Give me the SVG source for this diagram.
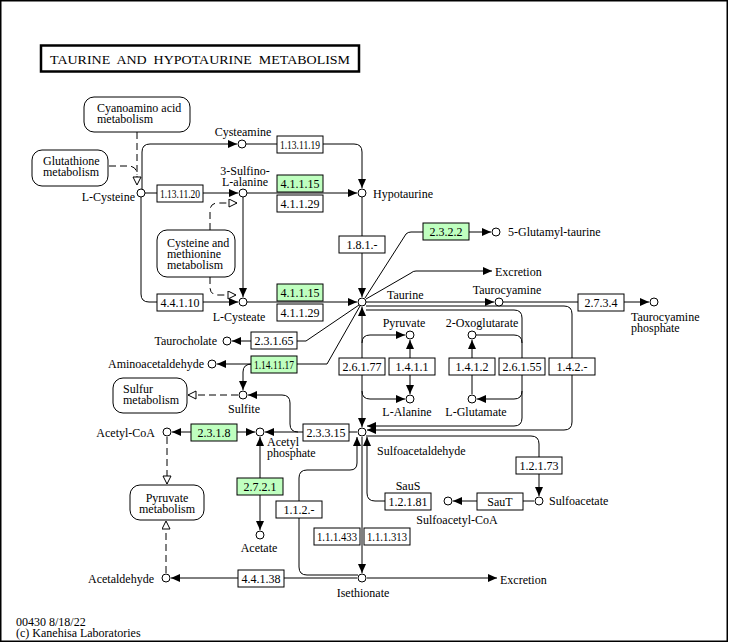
<svg xmlns="http://www.w3.org/2000/svg" width="729" height="643" viewBox="0 0 729 643">
<style>
text{font-family:"Liberation Serif","Times New Roman",serif;font-size:12px;fill:#000}
.c{fill:#fff;stroke:#000;stroke-width:1}
.e{fill:#fff;stroke:#000;stroke-width:1}
.g{fill:#bfffbf;stroke:#000;stroke-width:1}
.m{fill:#fff;stroke:#000;stroke-width:1}
.et{text-anchor:middle}
.mid{text-anchor:middle}
.end{text-anchor:end}
#connectors path{fill:none;stroke:#000;stroke-width:1}
#connectors .d{stroke-dasharray:7,4}
</style>
<defs>
<marker id="a" markerUnits="userSpaceOnUse" markerWidth="10" markerHeight="10" refX="9" refY="4" orient="auto"><path d="M0,0 L9,4 L0,8 z" fill="#000"/></marker>
<marker id="as" markerUnits="userSpaceOnUse" markerWidth="10" markerHeight="10" refX="0" refY="4" orient="auto"><path d="M9,0 L0,4 L9,8 z" fill="#000"/></marker>
<marker id="o" markerUnits="userSpaceOnUse" markerWidth="12" markerHeight="12" refX="9" refY="4.5" orient="auto"><path d="M1,0.5 L9,4.5 L1,8.5 z" fill="#fff" stroke="#000" stroke-width="1"/></marker>
</defs>
<rect x="0.75" y="0.75" width="726.5" height="640.5" fill="#fff" stroke="#000" stroke-width="1.5"/>
<g id="title"><rect x="41" y="45.5" width="318" height="26" fill="#fff" stroke="#000" stroke-width="2.5"/><text x="50" y="64" font-size="13" textLength="300" lengthAdjust="spacingAndGlyphs" xml:space="preserve">TAURINE  AND  HYPOTAURINE  METABOLISM</text></g>

<g id="connectors">
<path d="M142,189 V152 Q142,144 150,144 H237" marker-end="url(#a)"/>
<path d="M246,144 H354 Q362,144 362,152 V188" marker-end="url(#a)"/>
<path d="M145,193 H238" marker-end="url(#a)"/>
<path d="M247,193 H357" marker-end="url(#a)"/>
<path d="M243,197 V297" marker-end="url(#a)"/>
<path d="M141,197 V294 Q141,302 149,302 H238" marker-end="url(#a)"/>
<path d="M247,302 H357" marker-end="url(#a)"/>
<path d="M362,197 V297" marker-end="url(#a)"/>
<path d="M365,298 L406,234 Q408,232 411,232 H491" marker-end="url(#a)"/>
<path d="M366,299 L411,273 Q413,271 416,271 H492" marker-end="url(#a)"/>
<path d="M366,302 H494" marker-end="url(#a)"/>
<path d="M503,302 H649" marker-end="url(#a)"/>
<path d="M359,305 L306,341 H232" marker-end="url(#a)"/>
<path d="M360,306 L327,364 H217" marker-end="url(#a)"/>
<path d="M252,364 Q243,364 243,372 V390" marker-end="url(#a)"/>
<path class="d" d="M238,395 H188" marker-end="url(#o)"/>
<path d="M357,432 H265" marker-end="url(#a)"/>
<path d="M298,432 Q290,432 290,424 V403 Q290,395 282,395 H248" marker-end="url(#a)"/>
<path d="M172,432 H255" marker-start="url(#as)" marker-end="url(#a)"/>
<path class="d" d="M167,437 V484" marker-end="url(#o)"/>
<path class="d" d="M166,573 V521" marker-end="url(#o)"/>
<path d="M260,437 V530" marker-start="url(#as)" marker-end="url(#a)"/>
<path d="M357,578 H171" marker-end="url(#a)"/>
<path d="M367,578 H497" marker-end="url(#a)"/>
<path d="M362,437 V573" marker-end="url(#a)"/>
<path d="M358,575 H307 Q299,575 299,567 V478 Q299,470 307,470 H350 Q357,470 357,463 V437" marker-end="url(#a)"/>
<path d="M385,501 H375 Q367,501 367,493 V437" marker-end="url(#a)"/>
<path d="M534,501 H453" marker-end="url(#a)"/>
<path d="M366,436 H531 Q539,436 539,444 V496" marker-end="url(#a)"/>
<path d="M362,307 V427" marker-start="url(#as)" marker-end="url(#a)"/>
<path d="M362,343 Q362,335 370,335 H405" marker-end="url(#a)"/>
<path d="M362,391 Q362,399 370,399 H405" marker-end="url(#a)"/>
<path d="M410,340 V394" marker-start="url(#as)" marker-end="url(#a)"/>
<path d="M472,394 V340" marker-end="url(#a)"/>
<path d="M366,310 H514 Q522,310 522,318 V418 Q522,426 514,426 H367" marker-end="url(#a)"/>
<path d="M476,335 H514 Q522,335 522,343"/>
<path d="M522,391 Q522,399 514,399 H477" marker-end="url(#a)"/>
<path d="M366,306 H564 Q572,306 572,314 V422 Q572,430 564,430 H367" marker-end="url(#a)"/>
<path class="d" d="M137,132 V185" marker-end="url(#o)"/>
<path class="d" d="M109,166 H128 Q137,166 137,175"/>
<path class="d" d="M210,230 V211 Q210,203 218,203 H237" marker-end="url(#o)"/>
<path class="d" d="M210,277 V287 Q210,295 218,295 H236" marker-end="url(#o)"/>
</g>

<g id="map-cyanoamino"><rect class="m" x="84" y="97" width="106" height="35" rx="10"/><text x="97" y="112">Cyanoamino acid</text><text x="97" y="123">metabolism</text></g>
<g id="map-glutathione"><rect class="m" x="32" y="150" width="76" height="36" rx="10"/><text x="43" y="165">Glutathione</text><text x="43" y="176">metabolism</text></g>
<g id="map-cysmet"><rect class="m" x="157" y="230" width="78" height="47" rx="10"/><text x="167" y="247">Cysteine and</text><text x="167" y="258">methionine</text><text x="167" y="269">metabolism</text></g>
<g id="map-sulfur"><rect class="m" x="113" y="378" width="74" height="35" rx="10"/><text x="123" y="393">Sulfur</text><text x="123" y="404">metabolism</text></g>
<g id="map-pyruvate"><rect class="m" x="130" y="485" width="74" height="35" rx="10"/><text x="167" y="502" class="mid">Pyruvate</text><text x="167" y="513" class="mid">metabolism</text></g>

<g id="cpd-cysteamine"><circle class="c" cx="242" cy="144" r="4"/><text x="243" y="136" class="mid">Cysteamine</text></g>
<g id="cpd-lcysteine"><circle class="c" cx="141" cy="193" r="4"/><text x="135" y="201" class="end">L-Cysteine</text></g>
<g id="cpd-sulfinoalanine"><circle class="c" cx="243" cy="193" r="4"/><text x="245" y="175" class="mid">3-Sulfino-</text><text x="245" y="186" class="mid">L-alanine</text></g>
<g id="cpd-hypotaurine"><circle class="c" cx="362" cy="193" r="4"/><text x="373" y="198">Hypotaurine</text></g>
<g id="cpd-lcysteate"><circle class="c" cx="243" cy="302" r="4"/><text x="239" y="321" class="mid">L-Cysteate</text></g>
<g id="cpd-taurine"><circle class="c" cx="362" cy="302" r="4"/><text x="387" y="299">Taurine</text></g>
<g id="cpd-glutamyltaurine"><circle class="c" cx="496" cy="232" r="4"/><text x="508" y="236">5-Glutamyl-taurine</text></g>
<g id="cpd-excretion1"><text x="495" y="276">Excretion</text></g>
<g id="cpd-taurocyamine"><circle class="c" cx="499" cy="302" r="4"/><text x="507" y="294" class="mid">Taurocyamine</text></g>
<g id="cpd-taurocyaminephosphate"><circle class="c" cx="654" cy="302" r="4"/><text x="631" y="321">Taurocyamine</text><text x="631" y="332">phosphate</text></g>
<g id="cpd-taurocholate"><circle class="c" cx="227" cy="341" r="4"/><text x="217" y="345" class="end">Taurocholate</text></g>
<g id="cpd-aminoacetaldehyde"><circle class="c" cx="212" cy="364" r="4"/><text x="204" y="368" class="end">Aminoacetaldehyde</text></g>
<g id="cpd-sulfite"><circle class="c" cx="243" cy="395" r="4"/><text x="244" y="413" class="mid">Sulfite</text></g>
<g id="cpd-pyruvate"><circle class="c" cx="410" cy="335" r="4"/><text x="404" y="327" class="mid">Pyruvate</text></g>
<g id="cpd-oxoglutarate"><circle class="c" cx="472" cy="335" r="4"/><text x="482" y="327" class="mid">2-Oxoglutarate</text></g>
<g id="cpd-alanine"><circle class="c" cx="410" cy="399" r="4"/><text x="407" y="416" class="mid">L-Alanine</text></g>
<g id="cpd-glutamate"><circle class="c" cx="472" cy="399" r="4"/><text x="476" y="416" class="mid">L-Glutamate</text></g>
<g id="cpd-sulfoacetaldehyde"><circle class="c" cx="362" cy="432" r="4"/><text x="377" y="455">Sulfoacetaldehyde</text></g>
<g id="cpd-acetylcoa"><circle class="c" cx="167" cy="432" r="4"/><text x="155" y="437" class="end">Acetyl-CoA</text></g>
<g id="cpd-acetylphosphate"><circle class="c" cx="260" cy="432" r="4"/><text x="267" y="446">Acetyl</text><text x="267" y="457">phosphate</text></g>
<g id="cpd-acetate"><circle class="c" cx="260" cy="535" r="4"/><text x="259" y="552" class="mid">Acetate</text></g>
<g id="cpd-acetaldehyde"><circle class="c" cx="166" cy="578" r="4"/><text x="154" y="583" class="end">Acetaldehyde</text></g>
<g id="cpd-isethionate"><circle class="c" cx="362" cy="578" r="4"/><text x="363" y="597" class="mid">Isethionate</text></g>
<g id="cpd-excretion2"><text x="500" y="584">Excretion</text></g>
<g id="cpd-sulfoacetate"><circle class="c" cx="539" cy="501" r="4"/><text x="549" y="505">Sulfoacetate</text></g>
<g id="cpd-sulfoacetylcoa"><circle class="c" cx="448" cy="501" r="4"/><text x="457" y="524" class="mid">Sulfoacetyl-CoA</text></g>

<g id="ec-1.13.11.19"><rect class="e" x="277" y="136" width="46" height="17"/><text x="300" y="149" class="et" textLength="40" lengthAdjust="spacingAndGlyphs">1.13.11.19</text></g>
<g id="ec-1.13.11.20"><rect class="e" x="157" y="185" width="46" height="17"/><text x="180" y="198" class="et" textLength="40" lengthAdjust="spacingAndGlyphs">1.13.11.20</text></g>
<g id="ec-4.1.1.15a"><rect class="g" x="277" y="175" width="46" height="17"/><text x="300" y="188" class="et">4.1.1.15</text></g>
<g id="ec-4.1.1.29a"><rect class="e" x="277" y="195" width="46" height="17"/><text x="300" y="208" class="et">4.1.1.29</text></g>
<g id="ec-1.8.1.-"><rect class="e" x="339" y="236" width="46" height="17"/><text x="362" y="249" class="et">1.8.1.-</text></g>
<g id="ec-2.3.2.2"><rect class="g" x="423" y="223" width="46" height="17"/><text x="446" y="236" class="et">2.3.2.2</text></g>
<g id="ec-4.4.1.10"><rect class="e" x="157" y="294" width="46" height="17"/><text x="180" y="307" class="et">4.4.1.10</text></g>
<g id="ec-4.1.1.15b"><rect class="g" x="277" y="284" width="46" height="17"/><text x="300" y="297" class="et">4.1.1.15</text></g>
<g id="ec-4.1.1.29b"><rect class="e" x="277" y="304" width="46" height="17"/><text x="300" y="317" class="et">4.1.1.29</text></g>
<g id="ec-2.7.3.4"><rect class="e" x="578" y="294" width="46" height="17"/><text x="601" y="307" class="et">2.7.3.4</text></g>
<g id="ec-2.3.1.65"><rect class="e" x="251" y="332" width="46" height="17"/><text x="274" y="345" class="et">2.3.1.65</text></g>
<g id="ec-1.14.11.17"><rect class="g" x="251" y="356" width="46" height="17"/><text x="274" y="369" class="et" textLength="40" lengthAdjust="spacingAndGlyphs">1.14.11.17</text></g>
<g id="ec-2.6.1.77"><rect class="e" x="339" y="358" width="46" height="17"/><text x="362" y="371" class="et">2.6.1.77</text></g>
<g id="ec-1.4.1.1"><rect class="e" x="389" y="358" width="46" height="17"/><text x="412" y="371" class="et">1.4.1.1</text></g>
<g id="ec-1.4.1.2"><rect class="e" x="449" y="358" width="46" height="17"/><text x="472" y="371" class="et">1.4.1.2</text></g>
<g id="ec-2.6.1.55"><rect class="e" x="499" y="358" width="46" height="17"/><text x="522" y="371" class="et">2.6.1.55</text></g>
<g id="ec-1.4.2.-"><rect class="e" x="549" y="358" width="46" height="17"/><text x="572" y="371" class="et">1.4.2.-</text></g>
<g id="ec-2.3.3.15"><rect class="e" x="303" y="424" width="46" height="17"/><text x="326" y="437" class="et">2.3.3.15</text></g>
<g id="ec-2.3.1.8"><rect class="g" x="191" y="424" width="46" height="17"/><text x="214" y="437" class="et">2.3.1.8</text></g>
<g id="ec-1.2.1.73"><rect class="e" x="516" y="457" width="46" height="17"/><text x="539" y="470" class="et">1.2.1.73</text></g>
<g id="ec-1.2.1.81"><rect class="e" x="385" y="493" width="46" height="17"/><text x="408" y="506" class="et">1.2.1.81</text><text x="408" y="490" class="mid">SauS</text></g>
<g id="ec-SauT"><rect class="e" x="477" y="493" width="46" height="17"/><text x="500" y="506" class="et">SauT</text></g>
<g id="ec-2.7.2.1"><rect class="g" x="237" y="478" width="46" height="17"/><text x="260" y="491" class="et">2.7.2.1</text></g>
<g id="ec-1.1.2.-"><rect class="e" x="276" y="501" width="46" height="17"/><text x="299" y="514" class="et">1.1.2.-</text></g>
<g id="ec-1.1.1.433"><rect class="e" x="314" y="528" width="46" height="17"/><text x="337" y="541" class="et" textLength="40" lengthAdjust="spacingAndGlyphs">1.1.1.433</text></g>
<g id="ec-1.1.1.313"><rect class="e" x="364" y="528" width="46" height="17"/><text x="387" y="541" class="et" textLength="40" lengthAdjust="spacingAndGlyphs">1.1.1.313</text></g>
<g id="ec-4.4.1.38"><rect class="e" x="238" y="570" width="46" height="17"/><text x="261" y="583" class="et">4.4.1.38</text></g>

<g id="footer"><text x="16" y="626">00430 8/18/22</text><text x="16" y="637">(c) Kanehisa Laboratories</text></g>
</svg>
